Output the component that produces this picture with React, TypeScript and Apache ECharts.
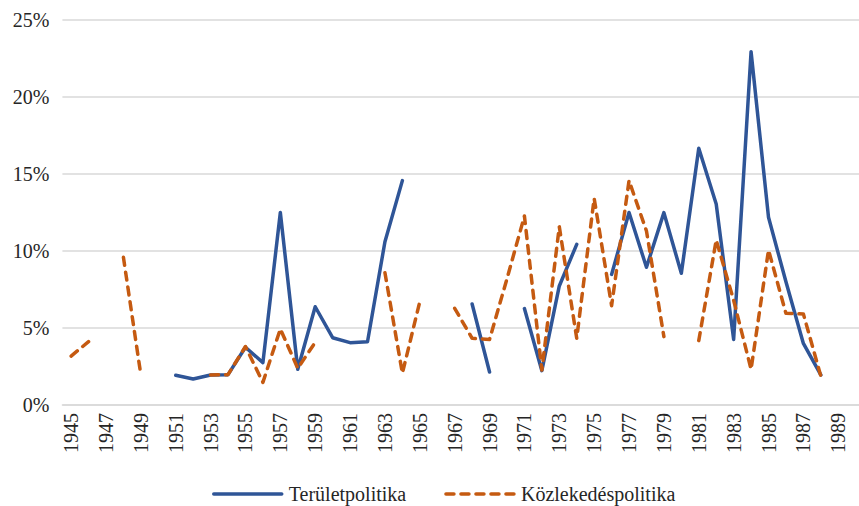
import React, { useEffect, useRef } from "react";
import * as echarts from "echarts";

const years: string[] = [];
for (let y = 1945; y <= 1990; y++) years.push(String(y));

// Területpolitika (%), 1945–1990
const teruletpolitika: (number | null)[] = [
  null, null, null, null, null, null, // 1945-1950
  1.93, 1.69, 1.95, 1.97, 3.75, 2.75, 12.5, 2.32, 6.38, 4.37, // 1951-1960
  4.05, 4.11, 10.6, 14.57, null, null, null, 6.56, 2.14, null, // 1961-1970
  6.26, 2.23, 7.73, 10.43, null, 8.48, 12.5, 8.94, 12.49, 8.55, // 1971-1980
  16.67, 13.05, 4.26, 22.94, 12.19, 8.0, 4.0, 1.95, null, null, // 1981-1990
];

// Közlekedéspolitika (%), 1945–1990
const kozlekedespolitika: (number | null)[] = [
  3.18, 4.11, null, 9.59, 1.95, null, // 1945-1950
  null, null, 1.95, 1.97, 3.8, 1.47, 4.94, 2.38, 4.07, null, // 1951-1960
  null, null, 8.59, 2.06, 6.71, null, 6.28, 4.33, 4.26, 8.2, // 1961-1970
  12.27, 2.27, 11.58, 4.33, 13.42, 6.45, 14.57, 11.3, 4.44, null, // 1971-1980
  4.18, 10.71, 6.8, 2.32, 10.06, 5.95, 5.91, 1.88, null, null, // 1981-1990
];

const FONT = "Liberation Serif, Times New Roman, serif";

export default function App() {
  const ref = useRef<HTMLDivElement>(null);
  useEffect(() => {
    if (!ref.current) return;
    const chart = echarts.init(ref.current, undefined, { renderer: "svg" });
    chart.setOption({
      animation: false,
      textStyle: { fontFamily: FONT },
      grid: {
        left: 62.4,
        right: -5.4,
        top: 20,
        bottom: 101,
        containLabel: false,
        outerBoundsMode: "none",
      },
      legend: {
        left: 212,
        top: 484,
        padding: 0,
        itemWidth: 68,
        itemHeight: 14,
        itemGap: 38,
        itemStyle: { opacity: 0 },
        lineStyle: { width: 3.5 },
        textStyle: { fontFamily: FONT, fontSize: 20, color: "#262626", padding: [0, 0, 0, 2] },
        data: ["Területpolitika", "Közlekedéspolitika"],
      },
      xAxis: {
        type: "category",
        data: years,
        boundaryGap: true,
        axisLine: { show: true, lineStyle: { color: "#d9d9d9", width: 1.5 } },
        axisTick: { show: false },
        axisLabel: {
          interval: 1,
          rotate: 90,
          margin: 8,
          fontFamily: FONT,
          fontSize: 20,
          color: "#262626",
        },
      },
      yAxis: {
        type: "value",
        min: 0,
        max: 25,
        interval: 5,
        axisLine: { show: false },
        axisTick: { show: false },
        splitLine: { lineStyle: { color: "#d9d9d9", width: 1.5 } },
        axisLabel: {
          formatter: "{value}%",
          margin: 13,
          fontFamily: FONT,
          fontSize: 20,
          color: "#262626",
        },
      },
      series: [
        {
          name: "Területpolitika",
          type: "line",
          data: teruletpolitika,
          symbol: "none",
          connectNulls: false,
          lineStyle: { color: "#2F5597", width: 3.5, join: "round", cap: "round" },
          itemStyle: { color: "#2F5597" },
        },
        {
          name: "Közlekedéspolitika",
          type: "line",
          data: kozlekedespolitika,
          symbol: "none",
          connectNulls: false,
          lineStyle: {
            color: "#C55A11",
            width: 3.5,
            type: [8, 7],
            join: "round",
            cap: "round",
          },
          itemStyle: { color: "#C55A11" },
        },
      ],
    });
    return () => chart.dispose();
  }, []);
  return <div ref={ref} style={{ width: 859, height: 506, position: "absolute", left: 0, top: 0 }} />;
}
